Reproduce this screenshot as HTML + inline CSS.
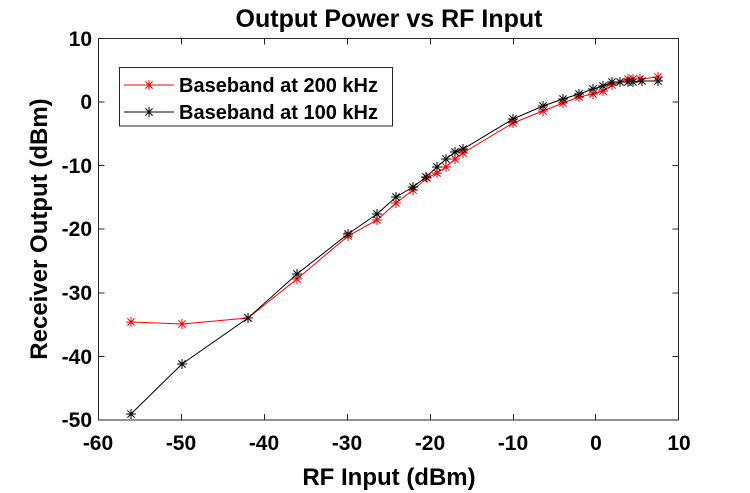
<!DOCTYPE html>
<html><head><meta charset="utf-8"><style>
html,body{margin:0;padding:0;background:#fff;}
svg{display:block;font-family:"Liberation Sans",Arial,sans-serif;font-weight:bold;}
</style></head><body>
<svg width="750" height="493" viewBox="0 0 750 493" xmlns="http://www.w3.org/2000/svg">
<defs>
<g id="mr" stroke="#f00" stroke-width="1"><path d="M-5,0H5M0,-5V5M-3.6,-3.6L3.6,3.6M-3.6,3.6L3.6,-3.6"/></g>
<g id="mk" stroke="#000" stroke-width="1"><path d="M-5,0H5M0,-5V5M-3.6,-3.6L3.6,3.6M-3.6,3.6L3.6,-3.6"/></g>
</defs>
<rect x="98.5" y="38.5" width="580" height="381.5" fill="#fff" stroke="#262626" stroke-width="1"/>
<g stroke="#262626" stroke-width="1">
<path d="M181.5,420v-6M264.5,420v-6M347.5,420v-6M430.5,420v-6M513.5,420v-6M595.5,420v-6
M181.5,38.5v6M264.5,38.5v6M347.5,38.5v6M430.5,38.5v6M513.5,38.5v6M595.5,38.5v6
M98.5,102h6M98.5,165.5h6M98.5,229h6M98.5,293h6M98.5,356.5h6
M678.5,102h-6M678.5,165.5h-6M678.5,229h-6M678.5,293h-6M678.5,356.5h-6"/>
</g>
<g font-size="21" fill="#000" text-anchor="middle">
<text x="98" y="450">-60</text><text x="181" y="450">-50</text><text x="264" y="450">-40</text>
<text x="347" y="450">-30</text><text x="430" y="450">-20</text><text x="513" y="450">-10</text>
<text x="596" y="450">0</text><text x="679" y="450">10</text>
</g>
<g font-size="21" fill="#000" text-anchor="end">
<text x="92" y="46">10</text><text x="92" y="109">0</text><text x="92" y="173">-10</text>
<text x="92" y="236">-20</text><text x="92" y="300">-30</text><text x="92" y="364">-40</text><text x="92" y="427">-50</text>
</g>
<text x="389" y="27" font-size="25" text-anchor="middle">Output Power vs RF Input</text>
<text x="389" y="485" font-size="24" text-anchor="middle">RF Input (dBm)</text>
<text transform="translate(47,229) rotate(-90)" font-size="24" text-anchor="middle">Receiver Output (dBm)</text>
<polyline fill="none" stroke="#f00" stroke-width="1" points="131,322 182,324 248,318 297,279 348,236 377,220 396,203 413,190 427,178 437,173 446,167 455,159 463,153 513,123 543,111 563,103 579,97 593,94 603,91 612,85 628,79 633,79 640,79 658,77"/>
<polyline fill="none" stroke="#000" stroke-width="1" points="131,414 182,364 248,318 297,274 348,234 377,214 396,197 413,187 426,177 437,167 446,159 455,152 463,149 513,119 543,106 563,99 579,94 593,89 603,86 612,82 620,82 628,82 633,82 642,81 658,81"/>
<g>
<use href="#mr" x="131" y="322"/><use href="#mr" x="182" y="324"/><use href="#mr" x="248" y="318"/><use href="#mr" x="297" y="279"/><use href="#mr" x="348" y="236"/><use href="#mr" x="377" y="220"/><use href="#mr" x="396" y="203"/><use href="#mr" x="413" y="190"/><use href="#mr" x="427" y="178"/><use href="#mr" x="437" y="173"/><use href="#mr" x="446" y="167"/><use href="#mr" x="455" y="159"/><use href="#mr" x="463" y="153"/><use href="#mr" x="513" y="123"/><use href="#mr" x="543" y="111"/><use href="#mr" x="563" y="103"/><use href="#mr" x="579" y="97"/><use href="#mr" x="593" y="94"/><use href="#mr" x="603" y="91"/><use href="#mr" x="612" y="85"/><use href="#mr" x="628" y="79"/><use href="#mr" x="633" y="79"/><use href="#mr" x="640" y="79"/><use href="#mr" x="658" y="77"/>
</g>
<g>
<use href="#mk" x="131" y="414"/><use href="#mk" x="182" y="364"/><use href="#mk" x="248" y="318"/><use href="#mk" x="297" y="274"/><use href="#mk" x="348" y="234"/><use href="#mk" x="377" y="214"/><use href="#mk" x="396" y="197"/><use href="#mk" x="413" y="187"/><use href="#mk" x="426" y="177"/><use href="#mk" x="437" y="167"/><use href="#mk" x="446" y="159"/><use href="#mk" x="455" y="152"/><use href="#mk" x="463" y="149"/><use href="#mk" x="513" y="119"/><use href="#mk" x="543" y="106"/><use href="#mk" x="563" y="99"/><use href="#mk" x="579" y="94"/><use href="#mk" x="593" y="89"/><use href="#mk" x="603" y="86"/><use href="#mk" x="612" y="82"/><use href="#mk" x="620" y="82"/><use href="#mk" x="628" y="82"/><use href="#mk" x="633" y="82"/><use href="#mk" x="642" y="81"/><use href="#mk" x="658" y="81"/>
</g>
<rect x="119.5" y="67.5" width="273" height="58.5" fill="#fff" stroke="#262626" stroke-width="1"/>
<line x1="124" y1="85" x2="174" y2="85" stroke="#f00" stroke-width="1"/><use href="#mr" x="149" y="85"/>
<line x1="124" y1="112" x2="174" y2="112" stroke="#000" stroke-width="1"/><use href="#mk" x="149" y="112"/>
<g font-size="20" fill="#000">
<text x="179" y="92">Baseband at 200 kHz</text>
<text x="179" y="119">Baseband at 100 kHz</text>
</g>
</svg>
</body></html>
